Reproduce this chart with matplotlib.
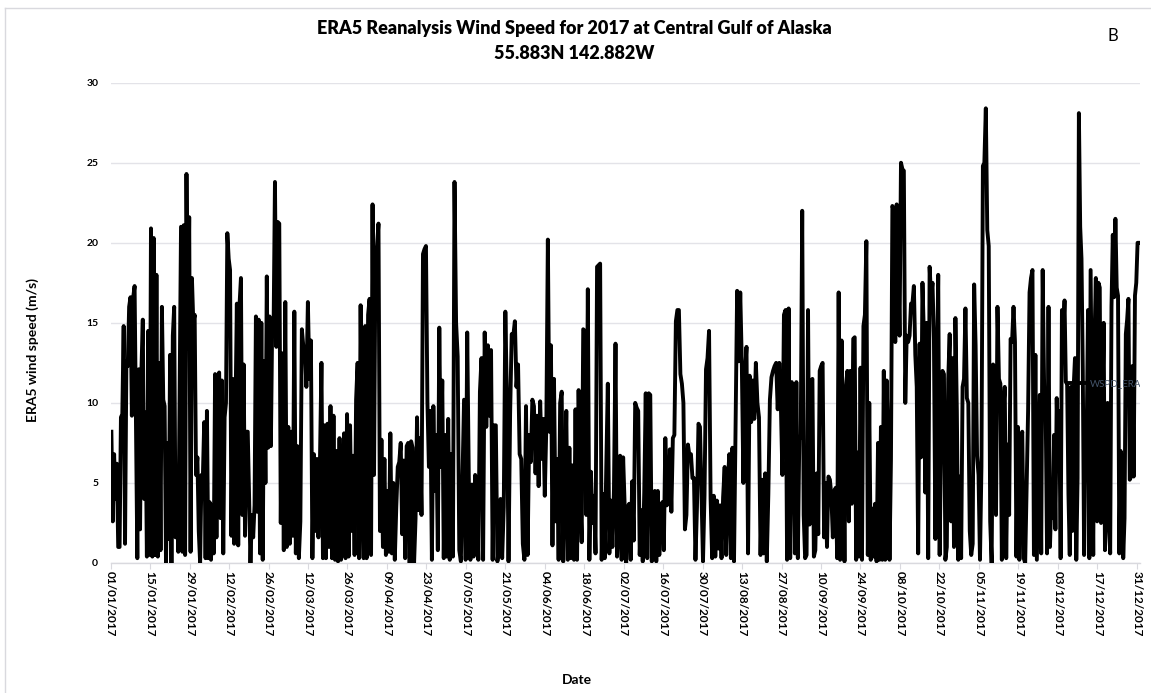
import numpy as np
import pandas as pd
import matplotlib
matplotlib.use("Agg")
import matplotlib.pyplot as plt
import matplotlib.dates as mdates
from matplotlib.lines import Line2D

plt.rcParams['font.family'] = ['Lato', 'DejaVu Sans']

# ERA5 10 m wind speed (m/s), Central Gulf of Alaska, 2017 - readings spread evenly through each month
jan = [8.2, 2.6, 6.8, 4.0, 6.2, 1.0, 1.0, 9.1, 9.3, 14.8, 1.2, 12.6, 12.3, 16.0, 16.6,
       9.2, 16.6, 17.3, 8.6, 0.3, 12.1, 2.1, 12.0, 15.2, 4.0, 9.4, 0.4, 14.5, 0.5, 20.9,
       0.4, 20.3, 0.5, 18.0, 0.4, 12.5, 0.8, 16.0, 10.2, 9.8, 0.0, 7.5, 1.5, 13.0, 0.0,
       14.2, 16.0, 1.6, 3.8, 0.7, 11.0, 21.0, 0.7, 21.1, 0.5, 24.3, 13.4, 21.6, 0.7, 17.8,
       15.0, 15.5, 5.5, 6.6]
feb = [2.0, 0.0, 5.5, 5.3, 8.8, 0.3, 9.5, 0.3, 3.8, 0.2, 3.6, 0.6, 11.8, 1.6, 11.6,
       11.9, 2.8, 11.4, 0.6, 9.1, 10.0, 20.6, 19.0, 18.3, 1.7, 11.5, 1.2, 9.6, 16.2, 1.1,
       16.2, 17.8, 3.0, 12.4, 1.7, 8.2, 8.2, 4.0, 0.0, 3.0, 1.6, 3.6, 15.4, 3.2, 15.2,
       0.6, 15.0, 0.2, 12.6, 5.0, 17.9, 7.2, 15.4, 7.3, 15.2, 14.8, 23.8, 13.5]
mar = [21.3, 21.2, 2.5, 13.1, 0.8, 16.3, 1.0, 8.5, 1.2, 8.2, 1.7, 15.7, 0.6, 7.3, 0.3,
       2.6, 14.6, 13.5, 13.5, 11.0, 16.3, 11.5, 13.9, 0.3, 6.8, 2.0, 6.5, 1.6, 6.3, 12.5,
       0.3, 8.6, 0.3, 8.7, 1.0, 9.8, 0.3, 9.2, 0.2, 7.0, 0.1, 7.8, 0.2, 1.5, 8.1,
       0.3, 9.3, 0.4, 8.6, 2.0, 6.7, 0.5, 10.2, 12.5, 0.3, 16.1, 5.4, 0.3]
apr = [14.8, 0.3, 15.5, 16.5, 0.5, 22.4, 5.5, 19.5, 19.8, 21.2, 2.0, 7.7, 1.0, 6.5, 0.5,
       4.5, 0.7, 8.1, 0.6, 5.0, 0.2, 3.5, 6.0, 6.3, 7.5, 1.8, 6.4, 0.3, 7.3, 7.5,
       0.0, 7.6, 7.2, 0.0, 2.8, 9.1, 3.3, 7.8, 3.0, 19.3, 19.6, 19.8, 10.0, 6.0, 9.5,
       0.2, 9.8, 4.5, 8.0, 0.8, 14.7, 6.0, 11.4, 0.3, 8.0, 0.4, 9.0]
may = [0.2, 6.8, 0.4, 23.8, 15.0, 12.9, 0.8, 0.1, 5.3, 10.2, 0.2, 14.4, 5.3, 0.2, 4.9,
       0.4, 5.5, 3.6, 0.2, 10.7, 12.8, 0.2, 14.4, 8.5, 13.6, 9.2, 13.3, 0.2, 8.6, 8.6,
       0.1, 1.0, 4.0, 0.3, 3.5, 15.7, 10.2, 0.1, 9.3, 14.3, 14.2, 15.1, 11.0, 12.4, 6.8,
       6.5, 1.2, 0.2, 9.8, 0.5, 8.0, 6.3, 10.2, 9.8, 5.6]
jun = [9.2, 4.8, 10.1, 6.5, 9.0, 4.2, 8.5, 20.2, 8.2, 13.6, 1.1, 11.5, 2.6, 6.5, 0.2,
       10.0, 10.7, 0.1, 4.5, 9.5, 0.2, 7.2, 0.3, 6.1, 0.2, 9.6, 0.2, 10.8, 4.5, 1.3,
       14.6, 14.5, 3.0, 17.1, 0.2, 5.7, 2.5, 4.2, 0.6, 18.5, 18.6, 18.7, 0.2, 4.3, 0.3,
       6.0, 11.2, 0.6, 3.9, 1.0, 4.6, 13.7, 0.4, 2.4, 6.7]
jul = [0.2, 6.6, 3.6, 0.0, 3.5, 3.7, 0.2, 5.1, 1.4, 10.0, 9.7, 9.5, 0.5, 3.3, 0.1,
       4.4, 10.6, 0.3, 10.6, 10.5, 0.1, 2.0, 4.5, 0.1, 4.5, 0.5, 3.2, 3.8, 0.8, 7.8,
       3.6, 3.8, 7.1, 3.2, 7.8, 8.0, 15.1, 15.8, 15.8, 11.8, 11.2, 10.0, 2.1, 3.0, 7.4,
       6.7, 6.8, 5.3, 5.3, 0.2, 3.5, 8.7, 8.5, 4.4, 0.1, 4.2, 12.1, 12.8]
aug = [14.5, 4.0, 0.3, 4.2, 0.4, 3.9, 0.9, 3.6, 0.3, 4.1, 6.0, 0.5, 5.0, 6.8, 0.3,
       7.2, 0.1, 8.5, 17.0, 12.6, 16.9, 12.5, 5.0, 11.8, 13.5, 0.6, 11.7, 8.8, 11.4, 9.0,
       12.5, 10.0, 9.1, 0.5, 5.2, 0.6, 5.6, 0.1, 4.3, 10.2, 11.6, 12.0, 12.3, 12.5, 9.6,
       12.5, 10.0, 5.5, 15.5, 15.8, 0.2, 15.9, 0.3, 11.3, 10.5, 0.6]
sep = [11.3, 0.3, 7.7, 8.0, 22.0, 3.0, 0.3, 0.5, 15.8, 2.4, 11.3, 11.5, 0.4, 0.8, 5.6,
       1.8, 12.0, 12.3, 12.5, 1.6, 5.0, 1.0, 5.4, 5.2, 4.2, 1.6, 4.5, 4.7, 0.3, 16.9,
       0.2, 13.9, 7.8, 0.1, 11.0, 12.0, 2.6, 12.0, 3.7, 14.0, 14.1, 0.2, 6.9, 0.4, 12.2,
       0.2, 14.8, 15.5, 20.1, 0.5, 10.0, 0.2, 3.4, 0.4, 3.7, 0.1, 7.5, 0.2]
oct_ = [8.5, 0.2, 12.0, 0.2, 11.4, 7.5, 0.2, 6.4, 22.3, 22.0, 13.8, 22.4, 19.3, 14.2, 25.0,
        24.6, 24.5, 10.0, 14.2, 13.8, 14.2, 16.2, 16.2, 17.3, 13.0, 11.0, 0.6, 13.7, 6.6, 17.5,
        14.2, 4.4, 15.0, 0.3, 18.5, 16.6, 17.5, 14.0, 1.5, 11.0, 18.0, 0.5, 8.0, 12.0, 11.8,
        0.2, 1.0, 11.5, 14.3, 2.6, 12.8, 1.0, 15.3, 9.5, 0.2, 5.4, 0.3, 11.0, 11.5, 15.9,
        10.3]
nov = [10.0, 2.0, 0.5, 1.2, 17.4, 13.6, 6.7, 5.5, 0.2, 6.0, 24.8, 25.0, 28.4, 20.8, 19.8,
       2.6, 0.0, 12.4, 12.0, 3.0, 16.0, 11.5, 11.2, 0.2, 9.5, 11.0, 0.3, 7.4, 3.0, 14.0,
       13.8, 16.0, 13.8, 0.4, 8.5, 0.2, 7.4, 8.2, 0.3, 0.0, 4.7, 9.5, 16.9, 17.8, 18.3,
       0.5, 13.0, 0.2, 5.5, 10.5, 0.6, 18.3, 11.0, 10.2, 0.6, 16.0, 1.0, 4.3]
dec = [2.8, 8.0, 2.1, 10.3, 6.4, 9.5, 0.3, 15.8, 14.3, 16.4, 11.3, 11.2, 4.3, 0.5, 11.0,
       2.0, 11.0, 12.8, 0.2, 5.3, 28.1, 21.0, 19.0, 12.0, 0.5, 7.0, 8.0, 15.8, 0.3, 18.3,
       9.5, 0.5, 14.0, 17.8, 2.6, 17.5, 17.2, 2.5, 9.3, 15.0, 0.8, 3.4, 10.0, 3.0, 0.6,
       16.0, 20.5, 16.6, 21.5, 17.2, 16.7, 0.6, 7.0, 6.5, 0.3, 2.8, 14.3, 15.2, 16.5, 5.2,
       5.4, 12.3, 5.4, 16.7, 17.5, 20.0, 20.0]

monthly = [jan, feb, mar, apr, may, jun, jul, aug, sep, oct_, nov, dec]

yticks = [0, 5, 10, 15, 20, 25, 30]
title_text = "ERA5 Reanalysis Wind Speed for 2017 at Central Gulf of Alaska\n55.883N 142.882W"
series_name = "WSPD_ERA5"

# timestamps: each month's readings spaced evenly through that month
stamps, speeds = [], []
for m, vals in enumerate(monthly, start=1):
    start = pd.Timestamp(2017, m, 1)
    end = pd.Timestamp(2018, 1, 1) if m == 12 else pd.Timestamp(2017, m + 1, 1)
    step = (end - start) / len(vals)
    stamps.extend(start + step * (i + 0.5) for i in range(len(vals)))
    speeds.extend(vals)

W, H = 1151, 693
fig = plt.figure(figsize=(W / 100, H / 100), dpi=100)
ax = fig.add_axes([110.7 / W, 130 / H, 1029.3 / W, 480.3 / H])

ax.plot(stamps, speeds, color='black', lw=2.8, label=series_name, zorder=3)

ax.set_ylim(0, 30)
ax.set_yticks(yticks)
ax.set_xlim(pd.Timestamp(2017, 1, 1), pd.Timestamp(2018, 1, 1, 4))
tick_dates = pd.date_range('2017-01-01', '2017-12-31', freq='14D')
ax.set_xticks(mdates.date2num(tick_dates))
ax.xaxis.set_major_formatter(mdates.DateFormatter('%d/%m/%Y'))

ax.yaxis.grid(True, color='#e3e3e8', lw=1.0)
ax.set_axisbelow(True)
for side in ['top', 'right', 'left']:
    ax.spines[side].set_visible(False)
ax.spines['bottom'].set_color('#d9d9de')
ax.spines['bottom'].set_linewidth(1.0)

ax.tick_params(axis='y', length=0, pad=9, labelsize=7.5)
ax.tick_params(axis='x', length=4, color='#d9d9de', pad=2, labelsize=8.5)
for lbl in ax.get_xticklabels():
    lbl.set_rotation(-90)
    lbl.set_fontweight('bold')
    lbl.set_va('top')
    lbl.set_ha('center')
for lbl in ax.get_yticklabels():
    lbl.set_fontweight('bold')

leg = ax.legend(loc='center left', bbox_to_anchor=((1067 - 110.7) / 1029.3, 11.2 / 30),
                frameon=False, fontsize=7, handlelength=2.0, handletextpad=0.3,
                borderpad=0, borderaxespad=0)
for t in leg.get_texts():
    t.set_color('#44546a')
    t.set_clip_box(ax.bbox)
    t.set_clip_on(True)

fig.text(574 / W, 1 - 41 / H, title_text, ha='center', va='center',
         fontsize=13, fontweight='heavy', linespacing=1.55)
fig.text(1113 / W, 1 - 36 / H, 'B', ha='center', va='center', fontsize=12)
fig.text(33 / W, 1 - 350 / H, 'ERA5 wind speed (m/s)', rotation=90,
         ha='center', va='center', fontsize=10, fontweight='bold')
fig.text(577 / W, 1 - 680 / H, 'Date', ha='center', va='center',
         fontsize=10, fontweight='bold')

# chart-area frame
fig.add_artist(Line2D([5 / W, 5 / W], [0, 1 - 8 / H], color='#d9d9de', lw=1))
fig.add_artist(Line2D([5 / W, 1], [1 - 8 / H, 1 - 8 / H], color='#d9d9de', lw=1))

fig.savefig('out.png', dpi=100)
